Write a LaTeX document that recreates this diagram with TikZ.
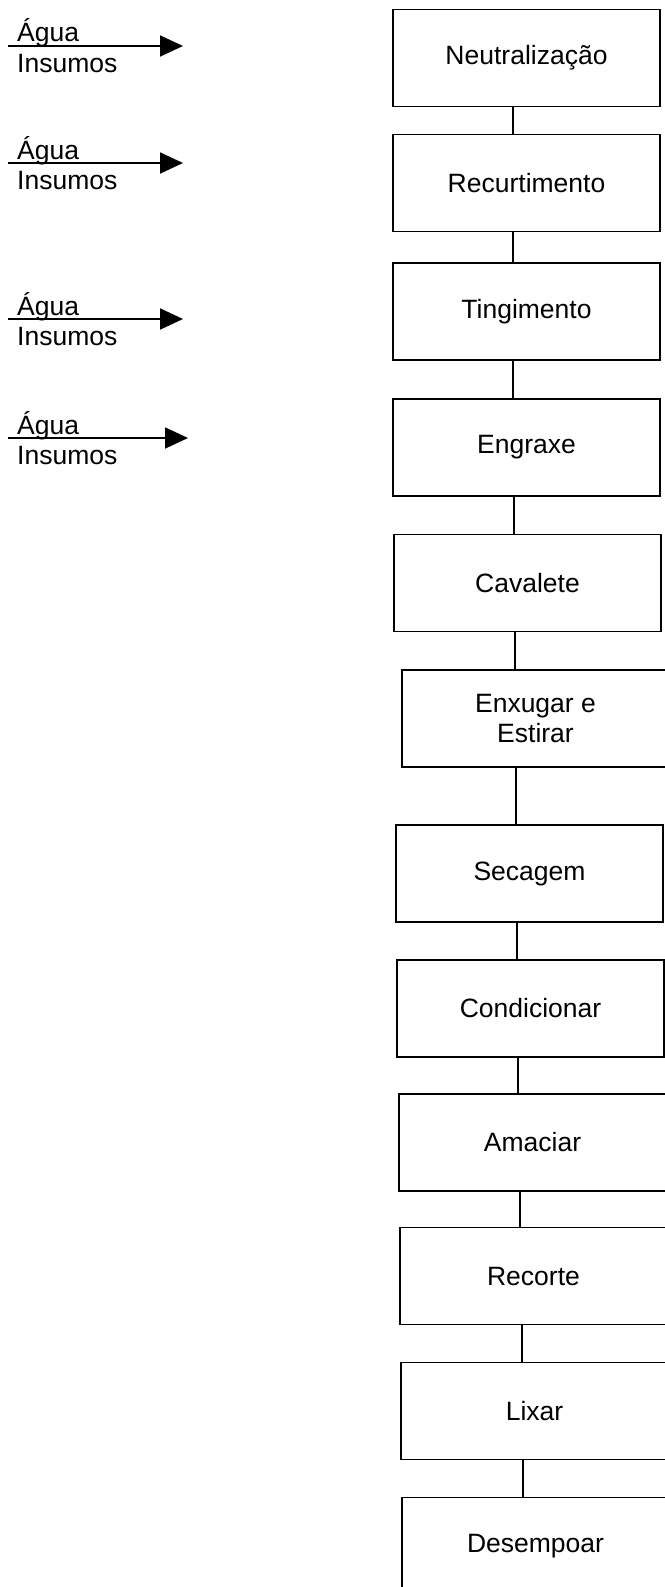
\documentclass[tikz,border=0pt]{standalone}
\usepackage{fontspec}
\setmainfont{Liberation Sans}
\usetikzlibrary{arrows.meta}

\begin{document}
\begin{tikzpicture}[x=1pt, y=-1pt,
    etapa/.style={rectangle, draw, line width=1.6pt, minimum width=267pt, minimum height=97pt, inner sep=0pt, align=center, font=\fontsize{26.5pt}{30pt}\selectfont},
    rotulo/.style={anchor=base west, inner sep=0pt, font=\fontsize{26.5pt}{30pt}\selectfont},
    entrada/.style={line width=1.8pt, -{Triangle[length=23pt, width=21pt]}},
    ligacao/.style={line width=1.4pt}]
                \fill[white] (0,0) rectangle (664,1587);
                \useasboundingbox (0,0) rectangle (664,1587);
                % etapas do processo
                \node[etapa] (neut) at (526.5,58) {Neutralização};
                \node[etapa] (recu) at (526.5,183) {Recurtimento};
                \node[etapa] (ting) at (526.5,311.5) {Tingimento};
                \node[etapa] (engr) at (526.5,447.5) {Engraxe};
                \node[etapa] (cava) at (527.5,583) {Cavalete};
                \node[etapa] (enxu) at (535.5,718.5) {Enxugar e\\Estirar};
                \node[etapa] (seca) at (529.5,873.5) {Secagem};
                \node[etapa] (cond) at (530.5,1008.5) {Condicionar};
                \node[etapa] (amac) at (532.5,1142.5) {Amaciar};
                \node[etapa] (reco) at (533.5,1276) {Recorte};
                \node[etapa] (lixa) at (534.5,1411) {Lixar};
                \node[etapa] (dese) at (535.5,1546) {Desempoar};
                \foreach \a/\b/\dx in {neut/recu/-13.5, recu/ting/-13.5, ting/engr/-13.5, engr/cava/-12.5, cava/enxu/-12.5, enxu/seca/-19.5, seca/cond/-12.5, cond/amac/-12.5, amac/reco/-12.5, reco/lixa/-11.5, lixa/dese/-11.5}
                    \draw[ligacao] ([xshift=\dx pt]\a.south) -- ([xshift=\dx pt]\a.south |- \b.north);
                % entradas de agua e insumos
                \foreach \i/\y/\x in {1/46/183, 2/163/183, 3/319/183, 4/438/188} {
                    \coordinate (ini\i) at (8,\y);
                    \coordinate (fim\i) at (\x,\y);
                    \draw[entrada] (ini\i) -- (fim\i);
                    \node[rotulo] (agua\i) at (17,\y-4) {Água};
                    \node[rotulo] (insu\i) at (17,\y+26) {Insumos};
                }
                \end{tikzpicture}
\end{document}
